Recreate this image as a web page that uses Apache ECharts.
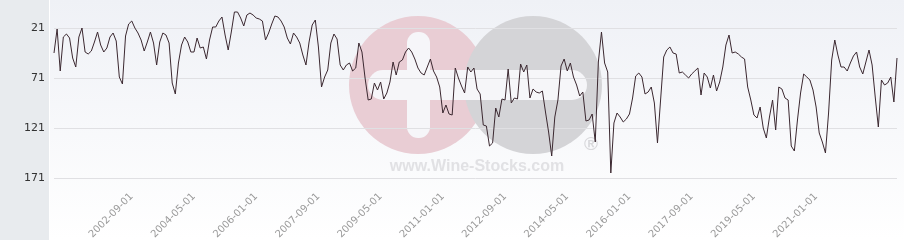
<!DOCTYPE html>
<html><head><meta charset="utf-8">
<script src="https://cdn.jsdelivr.net/npm/echarts@6/dist/echarts.min.js"></script>
<style>html,body{margin:0;padding:0;background:#fff}#c{width:904px;height:240px}</style>
</head><body><div id="c"></div>
<script>
// Monthly series, first month 2000-08
const startYear = 2000, startMonth = 8, monthCount = 272;
const yTicks = [21, 71, 121, 171];
const labelDates = ['2002-09-01','2004-05-01','2006-01-01','2007-09-01','2009-05-01','2011-01-01',
  '2012-09-01','2014-05-01','2016-01-01','2017-09-01','2019-05-01','2021-01-01'];

const rankA = [46,22,64,30,27,31,51,60,30,21, 45,47,44,35,25,38,45,41,30,26,
  34,70,77,29,17,14,21,26,33,44, 35,25,36,58,35,26,28,36,76,87];
const rankB = [56,38,30,35,45,45,31,41,40,52, 33,20,20,14,10,28,43,25,5,5,
  11,19,8,6,8,11,12,14,33,26, 17,9,10,14,20,31,37,26,30];
const rankC = [36,48,58,35,18,13,40,80,70,63, 36,27,32,58,63,58,56,64,61,36,
  45,71,93,92,76,83,75,92,86,75, 55,68,55,53,45,41];
const rankD = [45,52,61,66,68,60,52,64,70,80, 106,98,107,108,61,71,79,86,60,65,
  61,82,87,118,119,139,136,101,110,92, 93,62,96,91,92,57,65,58,91];
const rankE = [82,85,86,84,105,125,149,110,93,59, 52,64,56,70,78,89,85,114,113,107,
  135,55,25,56,65,166,116,106,110,115, 112,107,91,69,66,70,87,85,80,96];
const rankF = [136,93,50,43,40,46,47,66,65,68, 71,67,64,61,88,66,70,81,68,84,
  75,60,38,28,46,45,47,50,52,80, 93,108,111,100,121,131,110,93,123];
const rankG = [80,82,91,93,139,144,113,86,67,70, 73,83,100,126,135,146,106,53,33,48,
  60,60,64,56,49,45,60,67,55,43, 58,90,120,73,78,76,70,95,51];

const values = [].concat(rankA, rankB, rankC, rankD, rankE, rankF, rankG);
const months = [];
for (let i = 0; i < monthCount; i++) {
  const m = startMonth - 1 + i;
  const y = startYear + Math.floor(m / 12);
  const mm = (m % 12) + 1;
  months.push(y + '-' + (mm < 10 ? '0' : '') + mm + '-01');
}

const chart = echarts.init(document.getElementById('c'), null, {renderer: 'canvas'});
chart.setOption({
  animation: false,
  graphic: [
    {type: 'rect', z: -20, shape: {x: 0, y: 0, width: 49, height: 240}, style: {fill: '#e8ebee'}},
    {type: 'rect', z: -20, shape: {x: 50, y: 0, width: 854, height: 240},
      style: {fill: new echarts.graphic.LinearGradient(0, 0, 0, 1, [
        {offset: 0, color: '#eff1f6'}, {offset: 1, color: '#ffffff'}])}},
    {type: 'circle', z: -10, shape: {cx: 418, cy: 85, r: 69}, style: {fill: '#e9cdd4'}},
    {type: 'circle', z: -10, shape: {cx: 533, cy: 85, r: 69}, style: {fill: '#d4d4d7'}},
    {type: 'rect', z: -9, shape: {x: 368, y: 70, width: 219, height: 30, r: 15}, style: {fill: '#f6f6f9'}},
    {type: 'rect', z: -9, shape: {x: 407, y: 32, width: 23, height: 106, r: 11}, style: {fill: '#f6f6f9'}},
    {type: 'text', z: -9, style: {x: 477, y: 167, text: 'www.Wine-Stocks.com', align: 'center', verticalAlign: 'middle',
      font: 'bold 16px "Liberation Sans", Arial, sans-serif', fill: '#e1e1e4'}},
    {type: 'text', z: -9, style: {x: 591, y: 145, text: '®', align: 'center', verticalAlign: 'middle',
      font: 'bold 19px "Liberation Sans", Arial, sans-serif', fill: '#d9d9dc'}}
  ],
  grid: {left: 54, right: 7, top: -22, bottom: 12, outerBoundsMode: 'none', containLabel: false},
  xAxis: {
    type: 'category', data: months, boundaryGap: false,
    axisLine: {show: false, onZero: false}, axisTick: {show: false}, splitLine: {show: false},
    axisLabel: {
      interval: (i, v) => labelDates.indexOf(v) >= 0,
      rotate: 45, margin: -33, color: '#9a9a9a', fontSize: 10, fontFamily: 'DejaVu Sans'
    }
  },
  yAxis: {
    type: 'value', inverse: true, min: -29, max: 221, interval: 50,
    axisLine: {show: false}, axisTick: {show: false},
    axisLabel: {margin: 9, color: '#333', fontSize: 11, fontFamily: 'DejaVu Sans',
      formatter: v => yTicks.indexOf(v) >= 0 ? String(v) : ''},
    splitLine: {lineStyle: {width: 1, color: ['rgba(0,0,0,0)', '#e0e0e3', '#e0e0e3', '#e0e0e3', '#e0e0e3', 'rgba(0,0,0,0)']}}
  },
  series: [{type: 'line', data: values, symbol: 'none', lineStyle: {color: '#3b2830', width: 1}, z: 5}]
});
</script></body></html>
